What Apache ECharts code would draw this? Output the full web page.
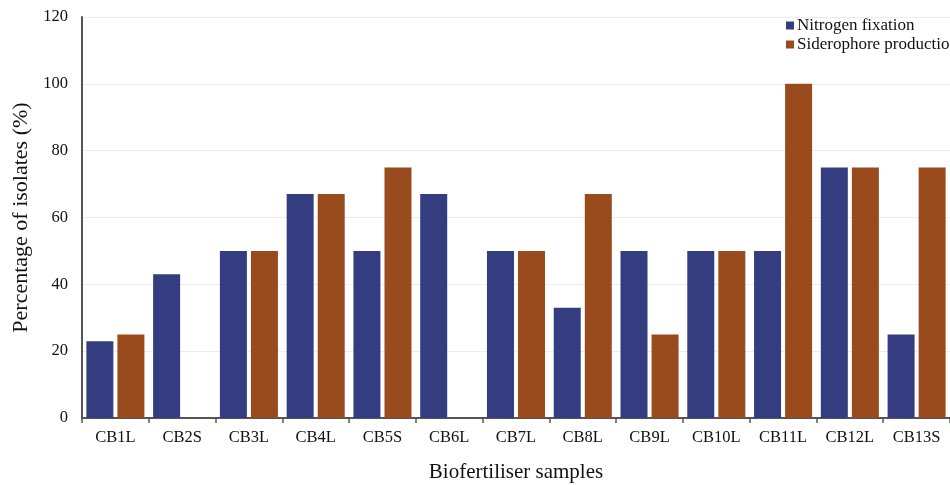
<!DOCTYPE html>
<html>
<head>
<meta charset="utf-8">
<script src="https://cdn.jsdelivr.net/npm/echarts@6/dist/echarts.min.js"></script>
<style>html,body{margin:0;padding:0;background:#fff}#c{width:950px;height:485px}</style>
</head>
<body>
<div id="c"></div>
<script>
const categories = ['CB1L','CB2S','CB3L','CB4L','CB5S','CB6L','CB7L','CB8L','CB9L','CB10L','CB11L','CB12L','CB13S'];
const nitrogenFixation = [23, 43, 50, 67, 50, 67, 50, 33, 50, 50, 50, 75, 25];
const siderophoreProduction = [25, 0, 50, 67, 75, 0, 50, 67, 25, 50, 100, 75, 75];
const seriesNames = ['Nitrogen fixation', 'Siderophore production'];
const yTicks = { min: 0, max: 120, interval: 20 };

const font = 'Liberation Serif, Times New Roman, serif';
const chart = echarts.init(document.getElementById('c'), null, { renderer: 'canvas' });
chart.setOption({
  animation: false,
  backgroundColor: '#ffffff',
  textStyle: { fontFamily: font },
  legend: {
    orient: 'vertical',
    left: 781,
    top: 12,
    itemWidth: 8,
    itemHeight: 8,
    itemGap: 2,
    icon: 'rect',
    textStyle: { fontFamily: font, fontSize: 17, lineHeight: 16, color: '#111', padding: [0,0,0,-2] },
    data: seriesNames
  },
  grid: { left: 82, right: 0, top: 17, bottom: 67, containLabel: false, outerBoundsMode: 'none' },
  xAxis: {
    type: 'category',
    data: categories,
    name: 'Biofertiliser samples',
    nameLocation: 'middle',
    nameGap: 44,
    nameTextStyle: { fontFamily: font, fontSize: 21, color: '#111' },
    axisLine: { lineStyle: { color: '#555', width: 2 } },
    axisTick: { show: true, length: 5, lineStyle: { color: '#555', width: 1.5 }, alignWithLabel: false },
    axisLabel: { fontFamily: font, fontSize: 16.5, color: '#111', margin: 11 },
    splitLine: { show: false }
  },
  yAxis: {
    type: 'value',
    min: yTicks.min, max: yTicks.max, interval: yTicks.interval,
    name: 'Percentage of isolates (%)',
    nameLocation: 'middle',
    nameGap: 49,
    nameTextStyle: { fontFamily: font, fontSize: 22, color: '#111' },
    axisLine: { show: true, lineStyle: { color: '#555', width: 2 } },
    axisTick: { show: false },
    axisLabel: { fontFamily: font, fontSize: 16.5, color: '#111', margin: 14 },
    splitLine: { show: true, lineStyle: { color: '#ececec', width: 1 } }
  },
  series: [
    {
      name: seriesNames[0], type: 'bar', data: nitrogenFixation,
      barWidth: 27, barGap: '15%',
      itemStyle: { color: '#333d80' }
    },
    {
      name: seriesNames[1], type: 'bar', data: siderophoreProduction,
      barWidth: 27, barGap: '15%',
      itemStyle: { color: '#9a4b1e' }
    }
  ]
});
</script>
</body>
</html>
